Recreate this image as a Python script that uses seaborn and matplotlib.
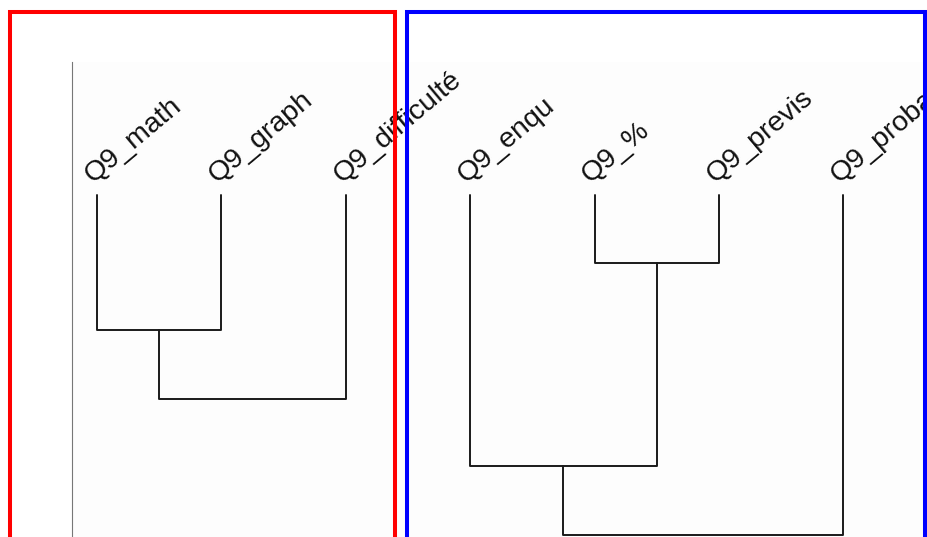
import matplotlib
matplotlib.use("Agg")
import numpy as np
import pandas as pd
import matplotlib.pyplot as plt
import seaborn as sns
from matplotlib.patches import Rectangle

# feuilles du dendrogramme (ordre d'affichage)
labels = ["Q9_math", "Q9_graph", "Q9_difficulté", "Q9_enqu", "Q9_%", "Q9_previs", "Q9_proba"]

# fusions style scipy : indices des clusters fusionnés + hauteur
merge_a = [4, 0, 8, 3, 10]
merge_b = [5, 1, 2, 7, 6]
merge_h = [0.68, 1.35, 2.04, 2.71, 3.40]

# construction des segments en U
pos = {i: float(i) for i in range(len(labels))}
top = {i: 0.0 for i in range(len(labels))}
rows = []
for k, (a, b, h) in enumerate(zip(merge_a, merge_b, merge_h)):
    for x, y in [(pos[a], top[a]), (pos[a], h), (pos[b], h), (pos[b], top[b])]:
        rows.append({"seg": k, "x": x, "y": y})
    new = len(labels) + k
    pos[new] = (pos[a] + pos[b]) / 2
    top[new] = h
segs = pd.DataFrame(rows)

sns.set_theme(style="white")
plt.rcParams['font.family'] = ['Liberation Sans', 'DejaVu Sans']

fig = plt.figure(figsize=(9.27, 5.37), dpi=100)
ax = fig.add_axes([72 / 927, 0, (925 - 72) / 927, (537 - 62) / 537])
ax.set_facecolor("#fdfdfd")

sns.lineplot(data=segs, x="x", y="y", units="seg", estimator=None, sort=False,
             color="#1a1a1a", linewidth=1.4, ax=ax)

for i, lab in enumerate(labels):
    ax.text(i - 0.035, -0.12, lab, rotation=40, rotation_mode="anchor",
            ha="left", va="baseline", fontsize=20.5, color="#111111")

ax.set_xlim(-0.201, 6.656)
ax.set_ylim(3.42, -1.33)
ax.set_xlabel("")
ax.set_ylabel("")
ax.set_xticks([])
ax.set_yticks([])
for s in ["top", "right", "bottom"]:
    ax.spines[s].set_visible(False)
ax.spines["left"].set_color("#777777")
ax.spines["left"].set_linewidth(0.8)

# cadres rouge / bleu autour des deux groupes
H = 1 - 12 / 537
fig.add_artist(Rectangle((9.5 / 927, -0.1), (394.7 - 9.5) / 927, H + 0.1, fill=False,
                         ec="red", lw=2.9, joinstyle="miter", transform=fig.transFigure, zorder=10))
fig.add_artist(Rectangle((407 / 927, -0.1), (924.7 - 407) / 927, H + 0.1, fill=False,
                         ec="blue", lw=2.9, joinstyle="miter", transform=fig.transFigure, zorder=10))

fig.savefig("out.png", dpi=100)
